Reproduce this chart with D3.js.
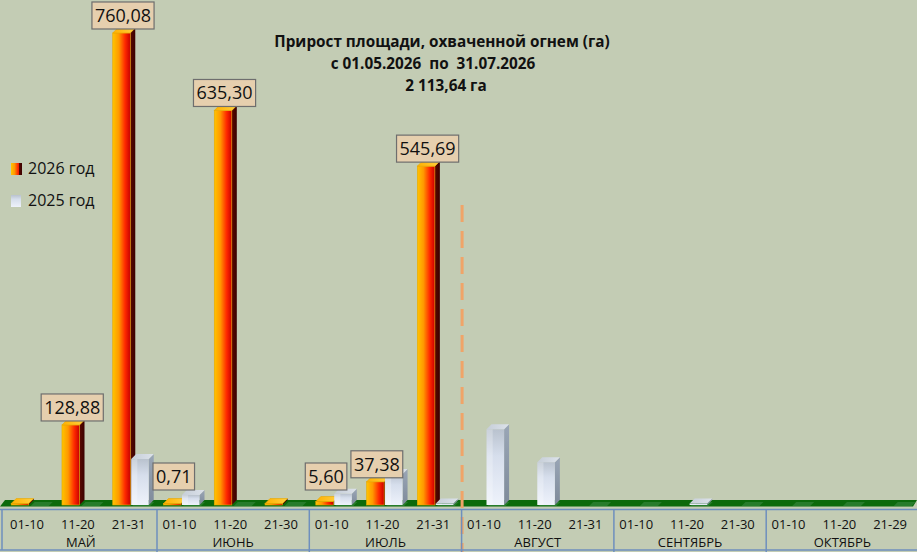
<!DOCTYPE html>
<html><head><meta charset="utf-8">
<script src="https://cdn.jsdelivr.net/npm/d3@7/dist/d3.min.js"></script>
<style>html,body{margin:0;padding:0;background:#C3CCB4;}svg{display:block;}</style>
</head><body>
<svg id="chart" width="917" height="552"></svg>
<script>
// ---- data ----
const periods = ["01-10","11-20","21-31","01-10","11-20","21-30","01-10","11-20","21-31","01-10","11-20","21-31","01-10","11-20","21-30","01-10","11-20","21-29"];
const months = ["МАЙ","ИЮНЬ","ИЮЛЬ","АВГУСТ","СЕНТЯБРЬ","ОКТЯБРЬ"];
const seriesNames = ["2026 год","2025 год"];
const values2026 = [0,128.88,760.08,0.71,635.30,0,5.60,37.38,545.69,null,null,null,null,null,null,null,null,null];
const values2025 = [null,null,74,16,null,null,18,50,0.5,122,69,null,null,0.5,null,null,null,null];
const titleLines = ["Прирост площади, охваченной огнем (га)","с 01.05.2026  по  31.07.2026","2 113,64 га"];

const W=917,H=552;
const svg=d3.select("#chart");
svg.append("rect").attr("width",W).attr("height",H).attr("fill","#C3CCB4");
const defs=svg.append("defs");
function lg(id,stops,x2,y2){const g=defs.append("linearGradient").attr("id",id).attr("x1",0).attr("y1",0).attr("x2",x2).attr("y2",y2);
 stops.forEach(s=>g.append("stop").attr("offset",s[0]).attr("stop-color",s[1]));}
lg("f26",[[0,"#FFC400"],[0.35,"#FF9800"],[0.7,"#FF2A00"],[1,"#C80000"]],1,0);
lg("s26",[[0,"#5A0800"],[1,"#3A0000"]],1,0);
lg("t26",[[0,"#FFB000"],[1,"#FFD040"]],1,0);
lg("f25",[[0,"#B9C2CE"],[0.35,"#D6DEEC"],[1,"#EEF2FB"]],0,1);
lg("s25",[[0,"#9AA6B6"],[1,"#7E8A9A"]],0,1);
lg("t25",[[0,"#C6CED8"],[1,"#DCE2EA"]],1,0);

const base=505, dx=5, dy=5;
const x=d3.scaleBand().domain(d3.range(periods.length)).range([4.7,918.5]);
const x1=d3.scaleBand().domain(seriesNames).range([6.5,42.5]).paddingInner(0.05);
const y=d3.scaleLinear().domain([0,800]).range([base,base-800*0.621]);

// floor
const floor=svg.append("g");
floor.append("path").attr("d",`M0,${base+1.5}L${W-4},${base+1.5}L${W},${base-5}L${dx},${base-5}Z`).attr("fill","#0C6A0C");
periods.forEach((p,i)=>{
  const x0=x(i)+26;
  floor.append("path").attr("d",`M${x0},${base+1}L${x0+18},${base+1}L${x0+22},${base-3}L${x0+4},${base-3}Z`).attr("fill","#3E8A45").attr("opacity",0.55);
});

// bars
const series=[{name:seriesNames[0],vals:values2026,f:"url(#f26)",s:"url(#s26)",t:"url(#t26)",edge:"#E8A800"},
              {name:seriesNames[1],vals:values2025,f:"url(#f25)",s:"url(#s25)",t:"url(#t25)",edge:"none"}];
const gb=svg.append("g");
series.forEach(se=>{
  se.vals.forEach((v,i)=>{
    if(v===null) return;
    const bx=x(i)+x1(se.name), bw=x1.bandwidth();
    let top=y(v); if(base-top<1.5) top=base-1.5;
    const g=gb.append("g");
    g.append("path").attr("d",`M${bx+bw},${top}L${bx+bw+dx},${top-dy}L${bx+bw+dx},${base-dy}L${bx+bw},${base}Z`).attr("fill",se.s);
    g.append("rect").attr("x",bx).attr("y",top).attr("width",bw).attr("height",base-top).attr("fill",se.f)
      .attr("stroke",se.edge).attr("stroke-width",se.edge==="none"?0:0.6);
    if(se.name===seriesNames[1]) g.append("rect").attr("x",bx).attr("y",top).attr("width",bw*0.35).attr("height",base-top).attr("fill","#FFFFFF").attr("opacity",0.25);
    g.append("path").attr("d",`M${bx},${top}L${bx+dx},${top-dy}L${bx+bw+dx},${top-dy}L${bx+bw},${top}Z`).attr("fill",se.t)
      .attr("stroke",se.edge).attr("stroke-width",se.edge==="none"?0:0.6);
  });
});

// data labels
const fmt=v=>d3.format(".2f")(v).replace(".",",");
const gl=svg.append("g");
values2026.forEach((v,i)=>{
  if(v===null||v===0) return;
  const cx=x(i)+x1(seriesNames[0])+x1.bandwidth()/2+dx/2-1;
  const bottom=Math.min(y(v)-4,490);
  const t=gl.append("text").attr("x",cx).attr("y",bottom-7).attr("text-anchor","middle")
    .attr("font-family","Open Sans").attr("font-size",18).attr("fill","#111").text(fmt(v));
  const bb=t.node().getBBox();
  gl.insert("rect","text").attr("x",bb.x-3).attr("y",bottom-27).attr("width",bb.width+6).attr("height",27)
    .attr("fill","#E6CFAE").attr("stroke","#6E6E6E").attr("stroke-width",1.2);
});

// dashed separator
const sepX=x(9)+0.5;
svg.append("line").attr("x1",sepX).attr("x2",sepX).attr("y1",205).attr("y2",H)
  .attr("stroke","#F0A468").attr("stroke-width",3).attr("stroke-dasharray","17,9");

// axis table
const ga=svg.append("g");
const tc="#6E8FBE";
ga.append("line").attr("x1",0).attr("x2",W).attr("y1",509.5).attr("y2",509.5).attr("stroke",tc).attr("stroke-width",1.5);
ga.append("line").attr("x1",0).attr("x2",W).attr("y1",550).attr("y2",550).attr("stroke",tc).attr("stroke-width",1.5);
ga.append("line").attr("x1",2).attr("x2",2).attr("y1",509.5).attr("y2",550).attr("stroke",tc).attr("stroke-width",1.5);
months.forEach((m,k)=>{
  const xs=x(3*k), xe=x(3*k+2)+x.bandwidth();
  if(k>0) ga.append("line").attr("x1",xs).attr("x2",xs).attr("y1",509.5).attr("y2",552).attr("stroke",tc).attr("stroke-width",1.5);
  ga.append("text").attr("x",(xs+xe)/2).attr("y",547).attr("text-anchor","middle").attr("font-family","Open Sans").attr("font-size",13).attr("fill","#111").text(m);
});
periods.forEach((p,i)=>{
  ga.append("text").attr("x",x(i)+x.bandwidth()/2-3).attr("y",529).attr("text-anchor","middle").attr("font-family","Open Sans").attr("font-size",13).attr("fill","#111").text(p);
});

// legend
const leg=svg.append("g");
[["url(#f26)","url(#s26)"],["url(#f25)","none"]].forEach((c,k)=>{
  const ly=163+k*32;
  leg.append("rect").attr("x",11).attr("y",ly).attr("width",10).attr("height",12).attr("fill",c[0]);
  if(c[1]!=="none") leg.append("rect").attr("x",19).attr("y",ly).attr("width",3).attr("height",12).attr("fill",c[1]);
  leg.append("text").attr("x",28).attr("y",ly+11).attr("font-family","Open Sans").attr("font-size",16).attr("fill","#111").text(seriesNames[k]);
});

// title
const tx=[442,433,446];
titleLines.forEach((t,k)=>{
  svg.append("text").attr("x",tx[k]).attr("y",47+k*22).attr("text-anchor","middle").attr("font-family","Open Sans")
    .attr("font-weight","bold").attr("font-size",15.3).attr("fill","#111").style("white-space","pre").text(t);
});
</script>
</body></html>
